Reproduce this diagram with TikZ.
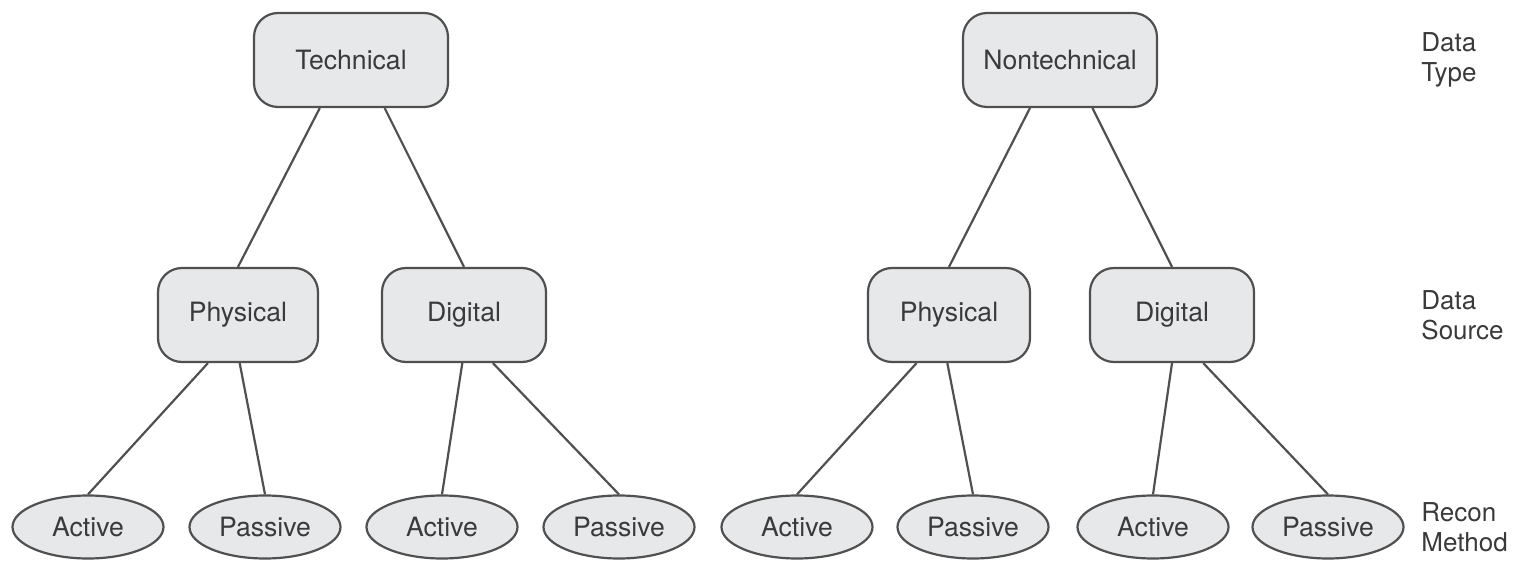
\documentclass[tikz,border=0pt]{standalone}
\usepackage{fontspec}
\setmainfont{TeX Gyre Heros}
\usetikzlibrary{shapes.geometric}
\definecolor{boxfill}{HTML}{E6E8EA}
\definecolor{boxline}{HTML}{505050}
\definecolor{txtgray}{HTML}{3A3A3A}
\begin{document}
\begin{tikzpicture}[x=0.5pt,y=-0.5pt,
    box/.style={draw=boxline,fill=boxfill,line width=1.1pt,rounded corners=12pt,
      minimum height=47pt,inner sep=0pt,text=txtgray,font=\fontsize{13.3}{15}\selectfont},
    oval/.style={ellipse,draw=boxline,fill=boxfill,line width=1.1pt,minimum width=75.5pt,
      minimum height=31.5pt,inner sep=0pt,text=txtgray,font=\fontsize{13.3}{15}\selectfont},
    lvl/.style={align=left,anchor=west,inner sep=0pt,text=txtgray,font=\fontsize{13}{15}\selectfont},
    link/.style={draw=boxline,line width=1.1pt}]
  \useasboundingbox (0,0) rectangle (1525,571);
  %% top level
  \node[box,minimum width=97pt] (tech) at (351,60) {Technical};
  \node[box,minimum width=97pt] (ntech) at (1060,60) {Nontechnical};
  %% data source
  \node[box,minimum width=80pt] (phys1) at (238,315) {Physical};
  \node[box,minimum width=82pt] (dig1) at (464,315) {Digital};
  \node[box,minimum width=81pt] (phys2) at (949,315) {Physical};
  \node[box,minimum width=82pt] (dig2) at (1172,315) {Digital};
  %% recon method
  \node[oval] (act1) at (88,527) {Active};
  \node[oval] (pas1) at (265,527) {Passive};
  \node[oval] (act2) at (442,527) {Active};
  \node[oval] (pas2) at (619,527) {Passive};
  \node[oval] (act3) at (797,527) {Active};
  \node[oval] (pas3) at (973,527) {Passive};
  \node[oval] (act4) at (1153,527) {Active};
  \node[oval] (pas4) at (1328,527) {Passive};
  %% level names
  \node[lvl] (ltype) at (1421,60) {Data\\Type};
  \node[lvl] (lsrc) at (1421,315) {Data\\Source};
  \node[lvl] (lrecon) at (1421,527) {Recon\\Method};
  %% links
  \draw[link] (tech.-123) -- (phys1.north);
  \draw[link] (tech.-55) -- (dig1.north);
  \draw[link] (ntech.-122) -- (phys2.north);
  \draw[link] (ntech.-56) -- (dig2.north);
  \draw[link] (phys1.-122) -- (act1.north);
  \draw[link] (phys1.-88) -- (pas1.north);
  \draw[link] (dig1.-92) -- (act2.north);
  \draw[link] (dig1.-59) -- (pas2.north);
  \draw[link] (phys2.-124) -- (act3.north);
  \draw[link] (phys2.-92) -- (pas3.north);
  \draw[link] (dig2.-90) -- (act4.north);
  \draw[link] (dig2.-57) -- (pas4.north);
\end{tikzpicture}
\end{document}
